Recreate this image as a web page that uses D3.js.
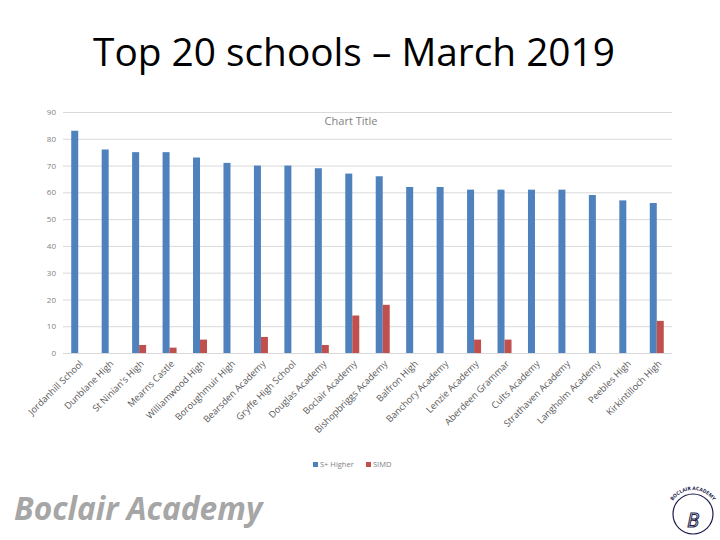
<!DOCTYPE html>
<html>
<head>
<meta charset="utf-8">
<script src="https://cdn.jsdelivr.net/npm/d3@7"></script>
<style>
  body { margin: 0; background: #fff; }
  text { font-family: "Open Sans", "DejaVu Sans", sans-serif; }
</style>
</head>
<body>
<div id="chart"></div>
<script>
/* data */
var schools = ["Jordanhill School", "Dunblane High", "St Ninian's High", "Mearns Castle",
  "Williamwood High", "Boroughmuir High", "Bearsden Academy", "Gryffe High School",
  "Douglas Academy", "Boclair Academy", "Bishopbriggs Academy", "Balfron High",
  "Banchory Academy", "Lenzie Academy", "Aberdeen Grammar", "Cults Academy",
  "Strathaven Academy", "Langholm Academy", "Peebles High", "Kirkintilloch High"];
var higher = [83, 76, 75, 75, 73, 71, 70, 70, 69, 67, 66, 62, 62, 61, 61, 61, 61, 59, 57, 56];
var simd = [0, 0, 3, 2, 5, 0, 6, 0, 3, 14, 18, 0, 0, 5, 5, 0, 0, 0, 0, 12];
var seriesNames = ["S+ Higher", "SIMD"];
var yTicks = [0, 10, 20, 30, 40, 50, 60, 70, 80, 90];

/* constants */
var W = 720, H = 540;
var colors = ["#4f81bd", "#c0504d"];
var plotLeft = 63, plotRight = 672, plotTop = 112, plotBottom = 353;

var svg = d3.select("#chart").append("svg")
    .attr("width", W)
    .attr("height", H);

// slide title
svg.append("text")
    .attr("x", 354).attr("y", 66)
    .attr("text-anchor", "middle")
    .attr("font-size", 38.8)
    .attr("fill", "#000")
    .text("Top 20 schools \u2013 March 2019");

var x = d3.scaleBand().domain(schools).range([plotLeft, plotRight]);
var x1 = d3.scaleBand().domain(seriesNames).range([x.bandwidth() / 2 - 7, x.bandwidth() / 2 + 7]);
var y = d3.scaleLinear().domain([0, 90]).range([plotBottom, plotTop]);

// gridlines
svg.append("g")
    .selectAll("line")
    .data(yTicks)
    .enter()
    .append("line")
    .attr("x1", plotLeft).attr("x2", plotRight)
    .attr("y1", function(d){ return y(d) + 0.5; })
    .attr("y2", function(d){ return y(d) + 0.5; })
    .attr("stroke", "#d9d9d9")
    .attr("stroke-width", 1);

// y axis labels
var yAxis = svg.append("g")
    .attr("transform", "translate(" + (plotLeft - 7) + ",0)")
    .call(d3.axisLeft(y).tickValues(yTicks).tickSize(0).tickPadding(0));
yAxis.select(".domain").remove();
yAxis.selectAll("text").attr("fill", "#7f7f7f").attr("font-size", 8);

// chart title
svg.append("text")
    .attr("x", 351).attr("y", 125)
    .attr("text-anchor", "middle")
    .attr("font-size", 11)
    .attr("fill", "#7f7f7f")
    .text("Chart Title");

// bars
var groups = svg.append("g")
    .selectAll("g")
    .data(schools)
    .enter()
    .append("g")
    .attr("transform", function(d){ return "translate(" + x(d) + ",0)"; });

groups.selectAll("rect")
    .data(function(d, i){ return [{s: seriesNames[0], v: higher[i]}, {s: seriesNames[1], v: simd[i]}]; })
    .enter()
    .append("rect")
    .attr("x", function(d){ return x1(d.s); })
    .attr("width", x1.bandwidth())
    .attr("y", function(d){ return y(d.v); })
    .attr("height", function(d){ return y(0) - y(d.v); })
    .attr("fill", function(d, i){ return colors[i]; });

// x axis labels
var xAxis = svg.append("g")
    .attr("transform", "translate(3," + (plotBottom + 9) + ")")
    .call(d3.axisBottom(x).tickSize(0).tickPadding(0));
xAxis.select(".domain").remove();
xAxis.selectAll("text")
    .attr("fill", "#595959")
    .attr("font-size", 9.3)
    .attr("text-anchor", "end")
    .attr("dy", "0.35em")
    .attr("transform", "rotate(-45)");

// legend
var legend = svg.append("g")
    .selectAll("g")
    .data(seriesNames)
    .enter()
    .append("g")
    .attr("transform", function(d, i){ return "translate(" + [313, 366][i] + ",462)"; });
legend.append("rect")
    .attr("width", 5).attr("height", 5)
    .attr("fill", function(d, i){ return colors[i]; });
legend.append("text")
    .attr("x", 7).attr("y", 5)
    .attr("font-size", 7.5)
    .attr("fill", "#7f7f7f")
    .text(function(d){ return d; });

// footer
svg.append("text")
    .attr("x", 14).attr("y", 520)
    .attr("font-size", 31.7)
    .attr("font-style", "italic")
    .attr("font-weight", "bold")
    .attr("fill", "#a6a6a6")
    .text("Boclair Academy");

// logo sketch
var logo = svg.append("g").attr("transform", "translate(693,514)");
logo.append("path")
    .attr("id", "logoArc")
    .attr("fill", "none")
    .attr("d", "M -20.8,-12 A 24,24 0 0,1 20.8,-12");
logo.append("circle").attr("r", 20).attr("fill", "none").attr("stroke", "#1a1a4a").attr("stroke-width", 1.2);
logo.append("text")
    .attr("text-anchor", "middle").attr("y", 13)
    .attr("font-size", 20).attr("font-style", "italic")
    .attr("fill", "none").attr("stroke", "#1a1a4a").attr("stroke-width", 1)
    .text("B");
logo.append("text")
    .attr("font-size", 5)
    .attr("font-weight", "bold")
    .attr("fill", "#1a1a4a")
    .append("textPath")
    .attr("href", "#logoArc")
    .attr("startOffset", "50%")
    .attr("text-anchor", "middle")
    .text("BOCLAIR ACADEMY");
</script>
</body>
</html>
